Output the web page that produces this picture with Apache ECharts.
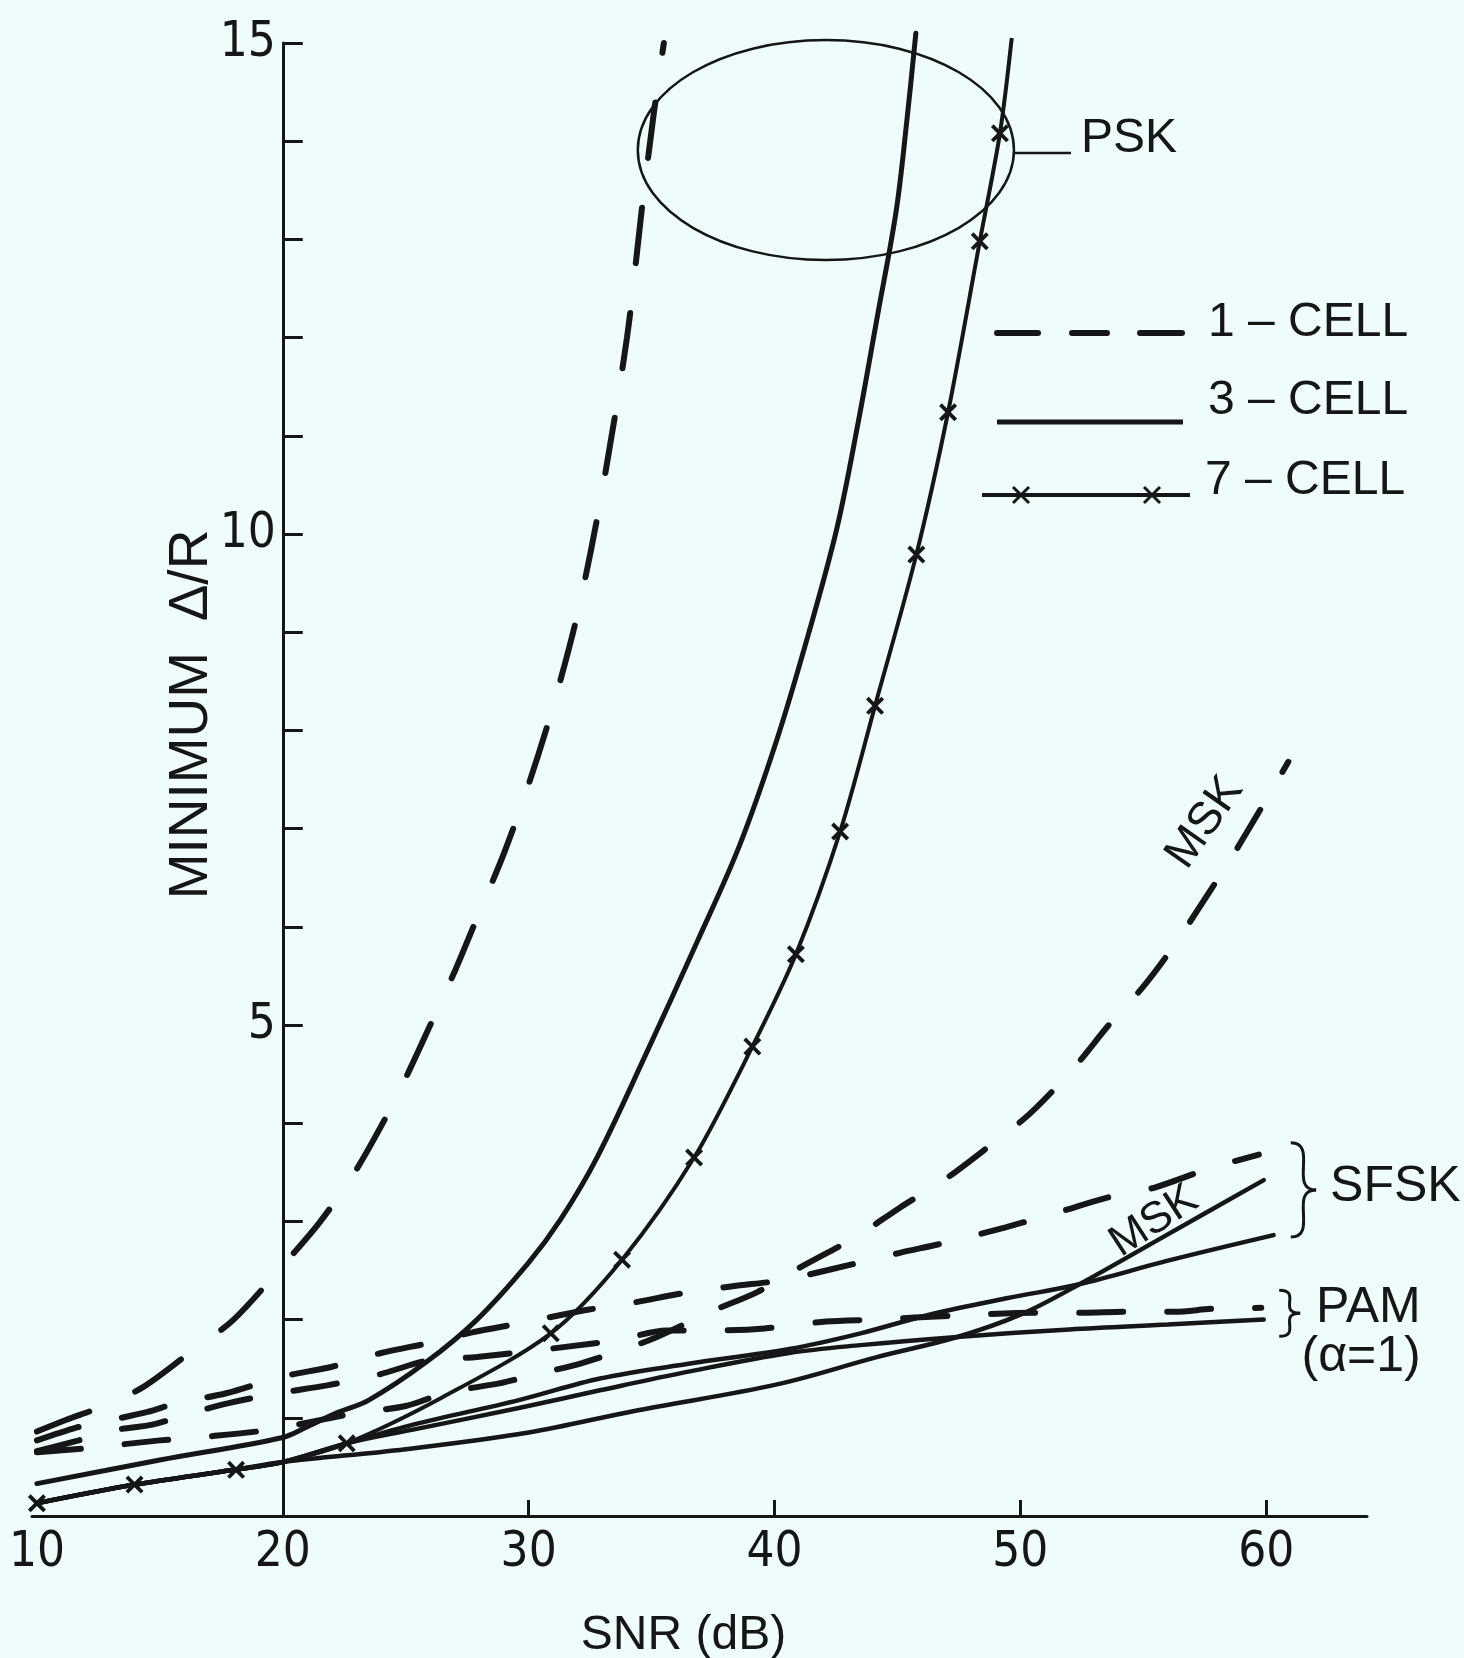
<!DOCTYPE html>
<html>
<head>
<meta charset="utf-8">
<script src="https://cdn.jsdelivr.net/npm/echarts@6/dist/echarts.min.js"></script>
<style>
  html, body { margin: 0; padding: 0; background: #eefcfc; }
  #chart { width: 1464px; height: 1658px; }
</style>
</head>
<body>
<div id="chart"></div>
<script>
// ---- axes -------------------------------------------------------------
const Y_AXIS_SNR = 20;                 // the value axis stands at SNR = 20 dB
const SNR_MIN = 9.8, SNR_MAX = 64.1;
const xTickLabels = [10, 20, 30, 40, 50, 60];
const xTickMarks = [20, 30, 40, 50, 60];
const yTickLabels = [5, 10, 15];

// ---- PSK ----------------------------------------------------------------
const psk1Snr = [10, 11.2, 12.6, 14.3, 16.2, 18.0, 20.1, 21.5, 22.9, 24.0, 25.0, 26.0, 27.0, 28.0, 29.0, 30.0, 31.0, 32.0, 33.0, 34.0, 34.6, 35.1, 35.5];
const psk1Val = [0.86, 0.98, 1.11, 1.31, 1.66, 2.0, 2.58, 2.99, 3.49, 3.97, 4.46, 5.0, 5.55, 6.15, 6.75, 7.45, 8.25, 9.2, 10.45, 12.0, 13.3, 14.3, 15.0];

const psk3Snr = [10, 15, 20, 21, 22.2, 23.5, 25.85, 27.9, 30.0, 31.3, 32.78, 34.71, 36.86, 38.58, 40.09, 41.38, 42.54, 43.4, 44.18, 44.95, 45.38, 45.75];
const psk3Val = [0.33, 0.57, 0.8, 0.91, 1.05, 1.18, 1.57, 2.0, 2.58, 3.02, 3.65, 4.67, 5.85, 6.83, 7.9, 8.98, 10.06, 11.13, 12.21, 13.29, 14.2, 15.1];

const psk7Snr = [10, 13.97, 18.1, 20, 22.6, 26.5, 30.9, 33.8, 36.73, 39.1, 40.87, 42.67, 44.09, 45.77, 47.06, 48.35, 49.17, 49.65];
const psk7Val = [0.13, 0.32, 0.47, 0.55, 0.74, 1.21, 1.86, 2.61, 3.65, 4.78, 5.72, 6.97, 8.25, 9.79, 11.24, 12.98, 14.08, 15.05];
const psk7Cross = [1, 1, 1, 0, 1, 0, 1, 1, 1, 1, 1, 1, 1, 1, 1, 1, 1, 0];

// ---- MSK ----------------------------------------------------------------
const msk1Snr = [10, 12, 15, 17, 19.5, 23, 25, 26.7, 28.8, 30.25, 32.2, 35, 37.3, 39.3, 41.1, 43.3, 45.1, 47, 48.7, 50.4, 52.2, 53.6, 55, 56.2, 57.6, 58.7, 59.8, 60.9];
const msk1Val = [0.65, 0.69, 0.77, 0.81, 0.88, 1.05, 1.12, 1.26, 1.35, 1.44, 1.56, 1.8, 2.07, 2.28, 2.54, 2.84, 3.14, 3.44, 3.76, 4.1, 4.57, 5.0, 5.39, 5.79, 6.32, 6.75, 7.21, 7.68];

const msk3Snr = [10, 14, 18, 20, 25, 30, 34.3, 40.1, 44.2, 47.4, 50, 52.4, 55.8, 59.9];
const msk3Val = [0.13, 0.32, 0.47, 0.55, 0.68, 0.85, 1.07, 1.34, 1.62, 1.82, 2.05, 2.36, 2.84, 3.42];

// ---- SFSK ---------------------------------------------------------------
const sfsk1Snr = [10, 11.6, 12.5, 14.5, 15.7, 17.7, 20, 22, 24, 26.1, 27.7, 29.8, 32.4, 34.2, 36.3, 38.3, 40.3, 42.1, 45.1, 46.9, 49.4, 51.5, 53.5, 55.4, 57.7, 59.7];
const sfsk1Val = [0.77, 0.9, 0.95, 1.06, 1.15, 1.25, 1.42, 1.52, 1.66, 1.77, 1.87, 1.97, 2.1, 2.17, 2.27, 2.34, 2.4, 2.5, 2.68, 2.78, 2.94, 3.09, 3.24, 3.34, 3.54, 3.68];

const sfsk3Snr = [10, 14, 18, 20, 22.6, 25.3, 29.6, 32.9, 36.5, 40.6, 43.5, 46.3, 49.5, 52.4, 56, 60.3];
const sfsk3Val = [0.13, 0.32, 0.47, 0.55, 0.74, 0.93, 1.18, 1.4, 1.55, 1.7, 1.86, 2.05, 2.22, 2.36, 2.6, 2.86];

// ---- PAM (alpha = 1) ----------------------------------------------------
const pam1Snr = [10, 11.7, 13.3, 14.7, 16.3, 17.8, 19.8, 21.8, 23.9, 26.0, 27.9, 33.6, 35.6, 37.6, 39.6, 42.1, 44.1, 47.3, 50.6, 52.5, 54.3, 56.3, 57.8, 59.8];
const pam1Val = [0.66, 0.77, 0.88, 0.93, 1.05, 1.15, 1.25, 1.33, 1.44, 1.59, 1.62, 1.79, 1.89, 1.89, 1.91, 1.98, 2.0, 2.04, 2.07, 2.07, 2.08, 2.08, 2.11, 2.12];

const pam3Snr = [10, 14, 18, 20, 22.6, 25.3, 29.6, 32.9, 36.5, 40.6, 43.5, 47.3, 52, 56, 59.9];
const pam3Val = [0.13, 0.32, 0.47, 0.55, 0.74, 0.88, 1.1, 1.28, 1.47, 1.66, 1.74, 1.82, 1.9, 1.95, 2.0];

// ---- drawing ------------------------------------------------------------
const INK = '#161616';
const PAPER = '#eefcfc';
const DIGIT_FONT = '"Liberation Sans Narrow", "DejaVu Sans Condensed", "Liberation Sans", sans-serif';
const TEXT_FONT = '"Liberation Sans", "DejaVu Sans", sans-serif';
const X_MARK = 'path://M0,1.5L1.5,0L5,3.5L8.5,0L10,1.5L6.5,5L10,8.5L8.5,10L5,6.5L1.5,10L0,8.5L3.5,5Z';

const GRID = { left: 32, right: 97, top: 43, bottom: 142 };
const CHART_W = 1464;
const pxPerDb = (CHART_W - GRID.left - GRID.right) / (SNR_MAX - SNR_MIN);

const pairs = (snr, val) => snr.map((s, i) => [s, val[i]]);

function dashedSeries(name, snr, val, dash) {
  return {
    name, type: 'line', data: pairs(snr, val), smooth: 0.3,
    showSymbol: false, symbol: 'none', clip: false, z: 3,
    lineStyle: { color: INK, width: 6, type: dash || [44, 44], cap: 'round' }
  };
}
function solidSeries(name, snr, val, width) {
  return {
    name, type: 'line', data: pairs(snr, val), smooth: 0.35,
    showSymbol: false, symbol: 'none', clip: false, z: 2,
    lineStyle: { color: INK, width: width || 4.5, cap: 'round' }
  };
}

const series = [
  dashedSeries('PSK 1-cell', psk1Snr, psk1Val, [56, 50]),
  solidSeries('PSK 3-cell', psk3Snr, psk3Val, 5),
  {
    name: 'PSK 7-cell', type: 'line', smooth: 0.3, clip: false, z: 4,
    data: psk7Snr.map((s, i) => ({ value: [s, psk7Val[i]], symbol: psk7Cross[i] ? X_MARK : 'none' })),
    showSymbol: true, symbolSize: 18,
    itemStyle: { color: INK },
    lineStyle: { color: INK, width: 4 }
  },
  dashedSeries('MSK 1-cell', msk1Snr, msk1Val),
  solidSeries('MSK 3-cell', msk3Snr, msk3Val),
  dashedSeries('SFSK 1-cell', sfsk1Snr, sfsk1Val),
  solidSeries('SFSK 3-cell', sfsk3Snr, sfsk3Val),
  dashedSeries('PAM 1-cell', pam1Snr, pam1Val),
  solidSeries('PAM 3-cell', pam3Snr, pam3Val)
];

const option = {
  backgroundColor: PAPER,
  animation: false,
  grid: Object.assign({ containLabel: false, outerBoundsMode: 'none' }, GRID),
  xAxis: {
    type: 'value', min: SNR_MIN, max: SNR_MAX,
    axisLine: { onZero: false, lineStyle: { color: INK, width: 3 } },
    axisTick: { show: true, inside: true, length: 16, customValues: xTickMarks, lineStyle: { color: INK, width: 3 } },
    axisLabel: { customValues: xTickLabels, color: INK, fontSize: 49, fontFamily: DIGIT_FONT, margin: 13 },
    splitLine: { show: false },
    name: 'SNR (dB)', nameLocation: 'middle', nameGap: 96, nameMoveOverlap: false,
    nameTextStyle: { color: INK, fontSize: 48, fontFamily: TEXT_FONT, padding: [0, 32, 0, 0] }
  },
  yAxis: {
    type: 'value', min: 0, max: 15, interval: 1,
    // move the axis from the grid edge to SNR = 20 dB
    offset: -(Y_AXIS_SNR - SNR_MIN) * pxPerDb,
    axisLine: { show: true, onZero: false, lineStyle: { color: INK, width: 3 } },
    axisTick: { show: true, inside: true, length: 20, lineStyle: { color: INK, width: 3 } },
    axisLabel: {
      customValues: yTickLabels, color: INK, fontSize: 49, fontFamily: DIGIT_FONT,
      margin: 7, padding: [0, 0, 16, 0]
    },
    splitLine: { show: false },
    name: 'MINIMUM  \u0394/R', nameLocation: 'middle', nameRotate: 90, nameGap: 63, nameMoveOverlap: false,
    nameTextStyle: { color: INK, fontSize: 55, fontFamily: TEXT_FONT, padding: [0, 0, 0, 130] }
  },
  series
};

const chart = echarts.init(document.getElementById('chart'), null, { renderer: 'canvas' });
chart.setOption(option);

// ---- annotations: PSK ellipse, curve labels, braces, key ----------------
const px = (snr, v) => chart.convertToPixel({ gridIndex: 0 }, [snr, v]);

function label(text, snr, v, opts) {
  const p = px(snr, v);
  return {
    type: 'text', x: p[0], y: p[1], rotation: (opts && opts.rotation) || 0, z: 10,
    style: {
      text, fill: INK, fontSize: (opts && opts.size) || 48, fontFamily: TEXT_FONT,
      align: (opts && opts.align) || 'left', verticalAlign: 'middle'
    }
  };
}
function brace(snrA, vTop, snrB, vBottom) {
  const a = px(snrA, vTop), b = px(snrB, vBottom);
  const x0 = a[0], y0 = a[1], x1 = b[0], y1 = b[1];
  const w = x1 - x0, mid = (y0 + y1) / 2;
  const st = { stroke: INK, lineWidth: 3, fill: null };
  return [
    { type: 'bezierCurve', z: 10, shape: { x1: x0, y1: y0, x2: x1, y2: mid, cpx1: x0 + w * 1.1, cpy1: y0, cpx2: x0 - w * 0.1, cpy2: mid }, style: st },
    { type: 'bezierCurve', z: 10, shape: { x1: x1, y1: mid, x2: x0, y2: y1, cpx1: x0 - w * 0.1, cpy1: mid, cpx2: x0 + w * 1.1, cpy2: y1 }, style: st }
  ];
}
function cross(x, y, r) {
  const st = { stroke: INK, lineWidth: 3 };
  return [
    { type: 'line', z: 10, shape: { x1: x - r, y1: y - r, x2: x + r, y2: y + r }, style: st },
    { type: 'line', z: 10, shape: { x1: x - r, y1: y + r, x2: x + r, y2: y - r }, style: st }
  ];
}

const ellC = px(42.09, 13.91), ellR = px(42.09 + 7.65, 13.91 - 1.12);
const ellRx = ellR[0] - ellC[0], ellRy = ellR[1] - ellC[1];
const leadA = px(42.09 + 7.65, 13.88), leadB = px(52.06, 13.88);

const graphic = [
  { type: 'ellipse', z: 10, shape: { cx: ellC[0], cy: ellC[1], rx: ellRx, ry: ellRy }, style: { stroke: INK, lineWidth: 2.5, fill: null } },
  { type: 'line', z: 10, shape: { x1: leadA[0], y1: leadA[1], x2: leadB[0], y2: leadB[1] }, style: { stroke: INK, lineWidth: 2.5 } },
  label('PSK', 52.47, 14.02, { size: 48 }),
  label('MSK', 57.51, 7.06, { size: 46, align: 'center', rotation: 55 * Math.PI / 180 }),
  label('MSK', 55.44, 3.0, { size: 44, align: 'center', rotation: 33 * Math.PI / 180 }),
  label('SFSK', 62.6, 3.35, { size: 50 }),
  label('PAM', 62.03, 2.12, { size: 50 }),
  label('(\u03b1=1)', 63.86, 1.62, { size: 50, align: 'center' }),
  ...brace(61.0, 3.8, 62.03, 2.84),
  ...brace(60.53, 2.3, 61.38, 1.83),

  // key
  ...[[997, 1038], [1072, 1107], [1140, 1182]].map(([a, b]) => ({
    type: 'line', z: 10, shape: { x1: a, y1: 333, x2: b, y2: 333 }, style: { stroke: INK, lineWidth: 6, lineCap: 'round' }
  })),
  { type: 'line', z: 10, shape: { x1: 997, y1: 422, x2: 1183, y2: 422 }, style: { stroke: INK, lineWidth: 5 } },
  { type: 'line', z: 10, shape: { x1: 982, y1: 495, x2: 1190, y2: 495 }, style: { stroke: INK, lineWidth: 4 } },
  ...cross(1021, 495, 8),
  ...cross(1152, 495, 8),
  { type: 'text', z: 10, x: 1208, y: 323, style: { text: '1 \u2013 CELL', fill: INK, fontSize: 48, fontFamily: TEXT_FONT, align: 'left', verticalAlign: 'middle' } },
  { type: 'text', z: 10, x: 1208, y: 401, style: { text: '3 \u2013 CELL', fill: INK, fontSize: 48, fontFamily: TEXT_FONT, align: 'left', verticalAlign: 'middle' } },
  { type: 'text', z: 10, x: 1205, y: 481, style: { text: '7 \u2013 CELL', fill: INK, fontSize: 48, fontFamily: TEXT_FONT, align: 'left', verticalAlign: 'middle' } }
];
chart.setOption({ graphic });
</script>
</body>
</html>
